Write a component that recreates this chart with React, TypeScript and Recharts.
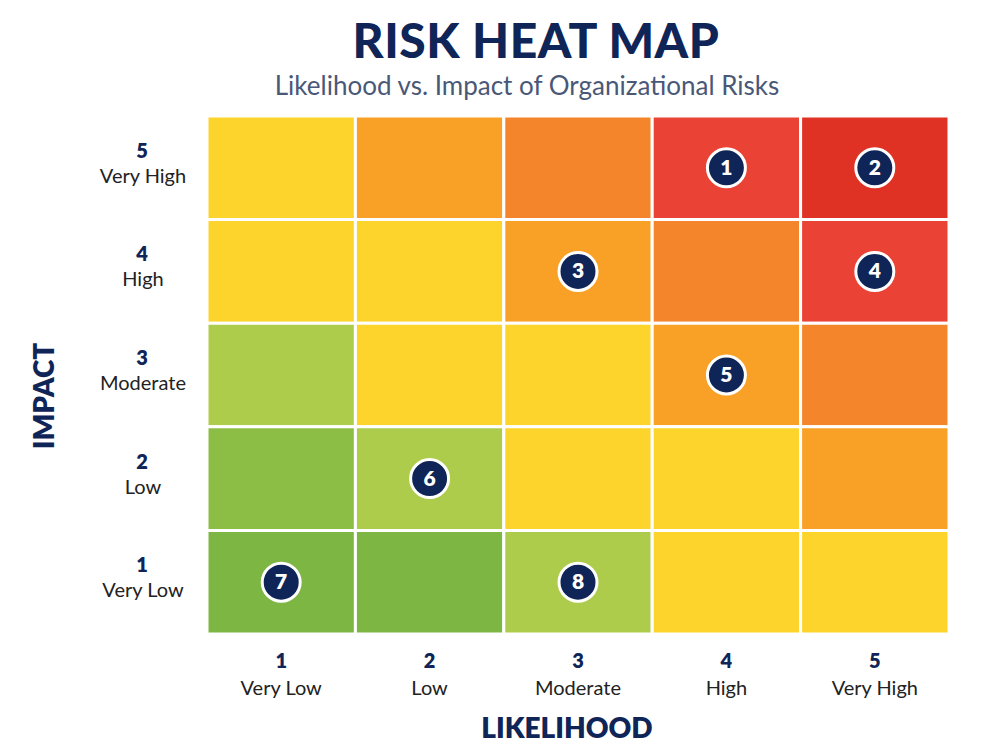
import React from 'react';
import {
  ScatterChart,
  Scatter,
  XAxis,
  YAxis,
  ReferenceArea,
} from 'recharts';

// axis categories (1..5)
const likelihoodLabels = ['Very Low', 'Low', 'Moderate', 'High', 'Very High'];
const impactLabels = ['Very Low', 'Low', 'Moderate', 'High', 'Very High'];

// severity level per cell, rows = impact 5 -> 1, cols = likelihood 1 -> 5
const severityGrid = [
  [4, 5, 6, 7, 8],
  [4, 4, 5, 6, 7],
  [3, 4, 4, 5, 6],
  [2, 3, 4, 4, 5],
  [1, 1, 3, 4, 4],
];

// plotted risks
const riskIds = [1, 2, 3, 4, 5, 6, 7, 8];
const riskLikelihood = [4, 5, 3, 5, 4, 2, 1, 3];
const riskImpact = [5, 5, 4, 4, 3, 2, 1, 1];

const SEVERITY_COLORS: Record<number, string> = {
  1: '#7db642',
  2: '#8cbd45',
  3: '#aecc4b',
  4: '#fdd42b',
  5: '#f9a126',
  6: '#f5852b',
  7: '#ea4336',
  8: '#df3224',
};

const NAVY = '#0f2557';
const FONT = 'Lato, "Open Sans", sans-serif';

const cells = severityGrid.flatMap((row, r) =>
  row.map((level, c) => ({ likelihood: c + 1, impact: 5 - r, level }))
);

const risks = riskIds.map((id, i) => ({
  id,
  x: riskLikelihood[i],
  y: riskImpact[i],
}));

const XTick = (props: any) => {
  const { x, y, payload } = props;
  const v = payload.value as number;
  return (
    <g fontFamily={FONT} textAnchor="middle">
      <text x={x} y={y + 32} fontSize={20} fontWeight={800} fill={NAVY}>
        {v}
      </text>
      <text x={x} y={y + 59} fontSize={20} fill="#222">
        {likelihoodLabels[v - 1]}
      </text>
    </g>
  );
};

const YTick = (props: any) => {
  const { x, y, payload } = props;
  const v = payload.value as number;
  return (
    <g fontFamily={FONT} textAnchor="middle">
      <text x={x - 63} y={y - 10} fontSize={20} fontWeight={800} fill={NAVY}>
        {v}
      </text>
      <text x={x - 62} y={y + 15} fontSize={20} fill="#222">
        {impactLabels[v - 1]}
      </text>
    </g>
  );
};

const RiskMarker = (props: any) => {
  const { cx, cy, payload } = props;
  return (
    <g>
      <circle cx={cx} cy={cy} r={19} fill={NAVY} stroke="#fff" strokeWidth={3} />
      <text
        x={cx}
        y={cy + 7}
        textAnchor="middle"
        fontFamily={FONT}
        fontWeight={800}
        fontSize={21}
        fill="#fff"
      >
        {payload.id}
      </text>
    </g>
  );
};

export default function App() {
  return (
    <div
      style={{
        position: 'absolute',
        left: 0,
        top: 0,
        width: 1000,
        height: 750,
        background: '#fff',
        fontFamily: FONT,
      }}
    >
      <div
        style={{
          position: 'absolute',
          top: 11,
          width: 1000,
          textAlign: 'center',
          fontSize: 48,
          fontWeight: 900,
          color: NAVY,
          letterSpacing: 0.5,
          transform: 'translateX(36px)',
        }}
      >
        RISK HEAT MAP
      </div>
      <div
        style={{
          position: 'absolute',
          top: 69,
          width: 1000,
          textAlign: 'center',
          fontSize: 26,
          color: '#4a5878',
          transform: 'translateX(27px)',
        }}
      >
        Likelihood vs. Impact of Organizational Risks
      </div>
      <div style={{ position: 'absolute', left: 0, top: 0 }}>
        <ScatterChart
          width={1000}
          height={750}
          margin={{ top: 116, right: 51, bottom: 0, left: 0 }}
        >
          <XAxis
            type="number"
            dataKey="x"
            domain={[0.5, 5.5]}
            ticks={[1, 2, 3, 4, 5]}
            height={116}
            axisLine={false}
            tickLine={false}
            tickSize={0}
            tick={<XTick />}
          />
          <YAxis
            type="number"
            dataKey="y"
            domain={[0.5, 5.5]}
            ticks={[1, 2, 3, 4, 5]}
            width={207}
            axisLine={false}
            tickLine={false}
            tickSize={0}
            tick={<YTick />}
          />
          {cells.map((c) => (
            <ReferenceArea
              key={`${c.likelihood}-${c.impact}`}
              x1={c.likelihood - 0.5}
              x2={c.likelihood + 0.5}
              y1={c.impact - 0.5}
              y2={c.impact + 0.5}
              fill={SEVERITY_COLORS[c.level]}
              fillOpacity={1}
              stroke="#fff"
              strokeWidth={3}
            />
          ))}
          <Scatter data={risks} shape={<RiskMarker />} isAnimationActive={false} />
        </ScatterChart>
      </div>
      <div
        style={{
          position: 'absolute',
          left: 0,
          top: 710,
          width: 1134,
          textAlign: 'center',
          fontSize: 28,
          fontWeight: 800,
          color: NAVY,
        }}
      >
        LIKELIHOOD
      </div>
      <div
        style={{
          position: 'absolute',
          left: 43,
          top: 396,
          transform: 'translate(-50%, -50%) rotate(-90deg)',
          fontSize: 28,
          fontWeight: 800,
          color: NAVY,
          whiteSpace: 'nowrap',
        }}
      >
        IMPACT
      </div>
    </div>
  );
}
